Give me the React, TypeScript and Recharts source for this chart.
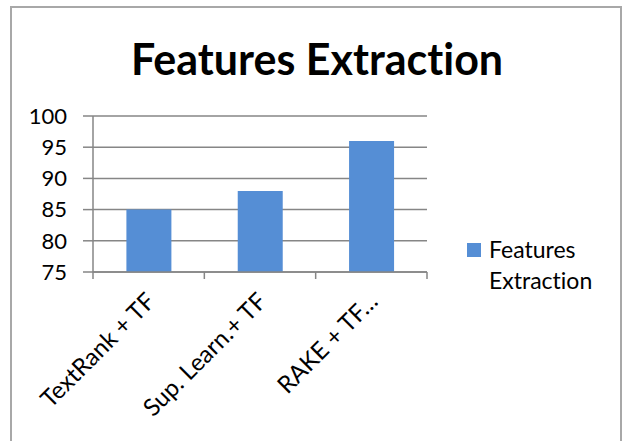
import React from "react";
import { BarChart, Bar, XAxis, YAxis, CartesianGrid, Legend } from "recharts";

const categories = ["TextRank + TF", "Sup. Learn.+ TF", "RAKE + TF\u2026"];
const values = [85, 88, 96];
const yTicks = [75, 80, 85, 90, 95, 100];
const seriesName = "Features Extraction";
const title = "Features Extraction";

const data = categories.map((name, i) => ({ name, value: values[i] }));

const FONT = "Lato, 'Open Sans', sans-serif";
const GRID = "#868686";
const BAR = "#558ED5";
const NOLIG = { fontVariantLigatures: "none" as const, fontFeatureSettings: '"liga" 0, "clig" 0' };

const XTick = (props: any) => {
  const { x, y, payload, index, visibleTicksCount, width } = props;
  const band = width / visibleTicksCount;
  const left = x - band / 2;
  const right = x + band / 2;
  const ax = x + 8;
  const ay = y + 31;
  return (
    <g>
      <line x1={left} y1={y} x2={left} y2={y + 7} stroke={GRID} strokeWidth={1.5} />
      {index === visibleTicksCount - 1 && (
        <line x1={right} y1={y} x2={right} y2={y + 7} stroke={GRID} strokeWidth={1.5} />
      )}
      <text
        x={ax}
        y={ay}
        textAnchor="end"
        transform={`rotate(-45, ${ax}, ${ay})`}
        fontSize={24}
        fontFamily={FONT}
        fill="#000"
        style={NOLIG}
      >
        {payload.value}
      </text>
    </g>
  );
};

const LegendContent = (props: any) => {
  const { payload } = props;
  return (
    <div style={{ fontFamily: FONT, ...NOLIG }}>
      {(payload || []).map((p: any) => (
        <div key={p.value} style={{ display: "flex", alignItems: "flex-start" }}>
          <div
            style={{ width: 14, height: 14, background: BAR, marginTop: 9, marginRight: 8, flex: "none" }}
          />
          <div style={{ width: 125, fontSize: 23, lineHeight: "31px", color: "#000" }}>{p.value}</div>
        </div>
      ))}
    </div>
  );
};

export default function App() {
  return (
    <div
      style={{
        position: "absolute",
        left: 0,
        top: 0,
        width: 626,
        height: 441,
        overflow: "hidden",
        background: "#fff",
      }}
    >
      <div
        style={{
          position: "absolute",
          left: 10,
          top: 6,
          width: 608,
          height: 480,
          border: "2px solid #a8a8a8",
        }}
      />
      <div
        style={{
          position: "absolute",
          left: 0,
          top: 34,
          width: 634,
          textAlign: "center",
          fontFamily: FONT,
          fontWeight: 700,
          fontSize: 43,
          lineHeight: "50px",
          color: "#000",
          ...NOLIG,
        }}
      >
        {title}
      </div>
      <div style={{ position: "absolute", left: 0, top: 0 }}>
        <BarChart
          width={626}
          height={441}
          data={data}
          margin={{ top: 116, right: 199, bottom: 0, left: 0 }}
          barCategoryGap="30%"
        >
          <CartesianGrid horizontal vertical={false} stroke={GRID} strokeWidth={1.5} />
          <XAxis
            dataKey="name"
            interval={0}
            height={169}
            tickLine={false}
            tickSize={0}
            tickMargin={0}
            axisLine={{ stroke: GRID, strokeWidth: 1.5 }}
            tick={<XTick />}
          />
          <YAxis
            domain={[75, 100]}
            ticks={yTicks}
            interval={0}
            width={93}
            tickSize={10}
            tickMargin={16}
            axisLine={{ stroke: GRID, strokeWidth: 1.5 }}
            tickLine={{ stroke: GRID, strokeWidth: 1.5 }}
            tick={{ fontSize: 22, fontFamily: FONT, fill: "#000" }}
            allowDataOverflow
          />
          <Legend
            layout="vertical"
            align="center"
            verticalAlign="middle"
            content={<LegendContent />}
            wrapperStyle={{ left: 467, top: 234, width: 150, height: 70 }}
          />
          <Bar dataKey="value" name={seriesName} fill={BAR} isAnimationActive={false} />
        </BarChart>
      </div>
    </div>
  );
}
